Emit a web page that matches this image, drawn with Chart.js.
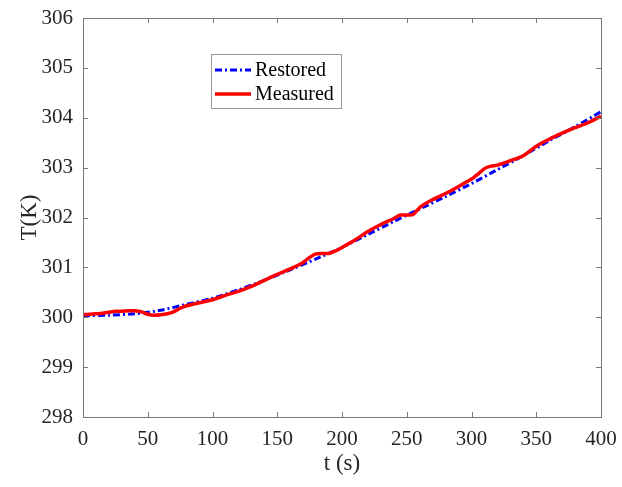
<!DOCTYPE html>
<html>
<head>
<meta charset="utf-8">
<script src="https://cdn.jsdelivr.net/npm/chart.js@4/dist/chart.umd.min.js"></script>
<style>
  html, body { margin: 0; padding: 0; background: #fff; }
  #wrap { width: 622px; height: 487px; }
</style>
</head>
<body>
<div id="wrap"><canvas id="tempChart" width="622" height="487"></canvas></div>
<script>
// tick labels
const xTicks = [0, 50, 100, 150, 200, 250, 300, 350, 400];
const yTicks = [298, 299, 300, 301, 302, 303, 304, 305, 306];

// restored curve (smooth)
const restoredTime = [0, 20, 40, 60, 80, 100, 120, 140, 160, 180, 200, 220, 240, 260, 280, 300, 320, 340, 360, 380, 400];
const restoredTemp = [300.03, 300.04, 300.07, 300.14, 300.26, 300.38, 300.55, 300.74, 300.95, 301.17, 301.40, 301.66, 301.92, 302.17, 302.42, 302.68, 302.96, 303.24, 303.54, 303.82, 304.12];

// measured curve
const measuredTime = [0, 5, 10, 15, 20, 25, 30, 35, 40, 45, 50, 55, 60, 65, 70, 75, 80, 90, 100, 110, 120, 130, 140, 150, 160, 170, 175, 180, 185, 190, 195, 200, 210, 220, 230, 240, 245, 250, 255, 260, 270, 280, 290, 300, 305, 310, 315, 320, 330, 340, 350, 360, 370, 380, 390, 400];
const measuredTemp = [300.05, 300.06, 300.07, 300.08, 300.10, 300.12, 300.12, 300.13, 300.13, 300.11, 300.06, 300.04, 300.05, 300.07, 300.11, 300.18, 300.23, 300.29, 300.35, 300.44, 300.52, 300.62, 300.74, 300.86, 300.97, 301.10, 301.20, 301.27, 301.28, 301.28, 301.33, 301.40, 301.55, 301.72, 301.86, 301.98, 302.05, 302.05, 302.06, 302.20, 302.36, 302.48, 302.62, 302.77, 302.87, 302.98, 303.03, 303.05, 303.14, 303.24, 303.43, 303.57, 303.69, 303.80, 303.90, 304.03];

const FONT = '"Liberation Serif", "Times New Roman", serif';
const TEXT_COLOR = '#262626';
const BOX_COLOR = '#777';

const toPoints = (xs, ys) => xs.map((x, i) => ({ x, y: ys[i] }));

// box round the plot and inward ticks on all four sides
const boxPlugin = {
  id: 'boxPlugin',
  afterDatasetsDraw(chart) {
    const { ctx, chartArea: a, scales } = chart;
    const len = 5;
    ctx.save();
    ctx.strokeStyle = BOX_COLOR;
    ctx.lineWidth = 1;
    ctx.beginPath();
    scales.x.ticks.forEach(t => {
      const x = Math.round(scales.x.getPixelForValue(t.value)) + 0.5;
      ctx.moveTo(x, a.bottom); ctx.lineTo(x, a.bottom - len);
      ctx.moveTo(x, a.top); ctx.lineTo(x, a.top + len);
    });
    scales.y.ticks.forEach(t => {
      const y = Math.round(scales.y.getPixelForValue(t.value)) + 0.5;
      ctx.moveTo(a.left, y); ctx.lineTo(a.left + len, y);
      ctx.moveTo(a.right, y); ctx.lineTo(a.right - len, y);
    });
    ctx.stroke();
    ctx.strokeRect(Math.round(a.left) + 0.5, Math.round(a.top) + 0.5,
      Math.round(a.right - a.left), Math.round(a.bottom - a.top));
    ctx.restore();
  }
};

// legend box inside the plot, upper left
const legendPlugin = {
  id: 'legendPlugin',
  afterDraw(chart) {
    const { ctx } = chart;
    const bx = 211, by = 54, bw = 130, bh = 54;
    ctx.save();
    ctx.fillStyle = '#fff';
    ctx.fillRect(bx, by, bw, bh);
    ctx.strokeStyle = '#999';
    ctx.lineWidth = 1;
    ctx.strokeRect(bx + 0.5, by + 0.5, bw, bh);
    ctx.font = '20px ' + FONT;
    ctx.textBaseline = 'middle';
    chart.data.datasets.forEach((ds, i) => {
      const y = by + 16 + i * 24;
      ctx.strokeStyle = ds.borderColor;
      ctx.lineWidth = ds.borderWidth;
      ctx.setLineDash(ds.borderDash || []);
      ctx.beginPath();
      ctx.moveTo(bx + 4, y);
      ctx.lineTo(bx + 40, y);
      ctx.stroke();
      ctx.setLineDash([]);
      ctx.fillStyle = '#000';
      ctx.fillText(ds.label, bx + 44, y + 1);
    });
    ctx.restore();
  }
};

new Chart(document.getElementById('tempChart').getContext('2d'), {
  type: 'line',
  data: {
    datasets: [
      {
        label: 'Restored',
        data: toPoints(restoredTime, restoredTemp),
        borderColor: '#0000ff',
        borderWidth: 3,
        borderDash: [7, 3, 2, 3],
        pointRadius: 0,
        tension: 0.2,
        order: 1
      },
      {
        label: 'Measured',
        data: toPoints(measuredTime, measuredTemp),
        borderColor: '#ff0000',
        borderWidth: 3.5,
        pointRadius: 0,
        tension: 0.2,
        order: 0
      }
    ]
  },
  options: {
    responsive: false,
    animation: false,
    layout: { padding: { top: 18, right: 21, left: 0, bottom: 0 } },
    plugins: {
      legend: { display: false },
      tooltip: { enabled: false }
    },
    scales: {
      x: {
        type: 'linear',
        min: 0,
        max: 400,
        afterBuildTicks: s => { s.ticks = xTicks.map(v => ({ value: v })); },
        afterFit: s => { s.height = 70; s.paddingLeft = 0; s.paddingRight = 0; },
        grid: { display: false, drawTicks: false },
        border: { display: false },
        ticks: { padding: 10, color: TEXT_COLOR, font: { family: FONT, size: 21 }, maxRotation: 0 },
        title: { display: true, text: 't (s)', color: TEXT_COLOR, font: { family: FONT, size: 23 }, padding: { top: 0, bottom: 9 } }
      },
      y: {
        type: 'linear',
        min: 298,
        max: 306,
        afterBuildTicks: s => { s.ticks = yTicks.map(v => ({ value: v })); },
        afterFit: s => { s.width = 83; s.paddingTop = 0; s.paddingBottom = 0; },
        grid: { display: false, drawTicks: false },
        border: { display: false },
        ticks: { padding: 10, color: TEXT_COLOR, font: { family: FONT, size: 21 } },
        title: { display: true, text: 'T(K)', color: TEXT_COLOR, font: { family: FONT, size: 23 }, padding: { top: 16, bottom: 0 } }
      }
    }
  },
  plugins: [boxPlugin, legendPlugin]
});
</script>
</body>
</html>
